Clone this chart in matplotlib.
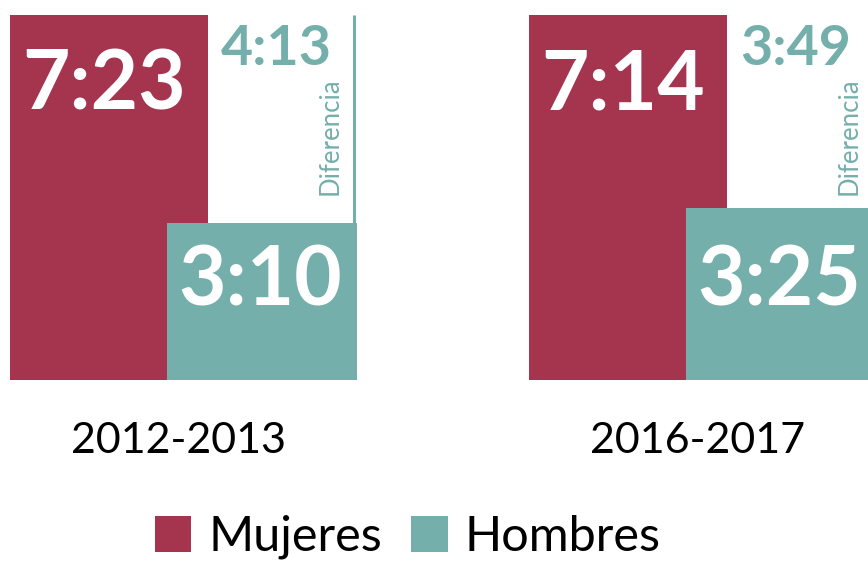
import matplotlib
import matplotlib.pyplot as plt

matplotlib.use("Agg")

# minutes per day spent on unpaid work
periods = ["2012-2013", "2016-2017"]
mujeres = [443, 434]
hombres = [190, 205]
series_names = ["Mujeres", "Hombres"]

RED = "#A5344F"
TEAL = "#74AFAB"
FONT = "Lato"


def hhmm(minutes):
    return f"{minutes // 60}:{minutes % 60:02d}"


fig = plt.figure(figsize=(8.68, 5.61), dpi=100)
plt.rcParams["font.family"] = [FONT, "DejaVu Sans"]

W, H = 868, 561
ax_bottom = (H - 380) / H
ax_height = 365 / H
ax_width = 347 / W
lefts = [10 / W, 529 / W]

bar_m = None
bar_h = None
for i, period in enumerate(periods):
    ax = fig.add_axes([lefts[i], ax_bottom, ax_width, ax_height])
    m, h = mujeres[i], hombres[i]
    bar_m = ax.bar(0, m, width=1.02, align="edge", color=RED, zorder=1)
    bar_h = ax.bar(0.81, h, width=0.98, align="edge", color=TEAL, zorder=2)
    ax.set_xlim(0, 1.79)
    ax.set_ylim(0, m)
    ax.axis("off")

    # big values
    ax.text(0.065, m * 270 / 365, hhmm(m), color="white", fontsize=59,
            fontweight="bold", ha="left", va="baseline", clip_on=False)
    ax.text(0.87, m * 75 / 365, hhmm(h), color="white", fontsize=59,
            fontweight="bold", ha="left", va="baseline", clip_on=False)

    # difference marker
    diff = m - h
    ax.plot([1.775, 1.775], [h, m], color=TEAL, lw=2.2, clip_on=False,
            solid_capstyle="butt")
    ax.text(1.375, m * 315 / 365, hhmm(diff), color=TEAL, fontsize=40,
            fontweight="bold", ha="center", va="baseline", clip_on=False)
    ax.text(1.65, m * 185 / 365, "Diferencia", color=TEAL, fontsize=18.5,
            rotation=90, ha="center", va="bottom", clip_on=False)

    # period label
    ax.text(0.87, -0.2 * m, period, color="black", fontsize=31,
            ha="center", va="baseline", clip_on=False)

fig.legend([bar_m, bar_h], series_names, loc="lower center",
           bbox_to_anchor=(0.47, -0.075), ncol=2, frameon=False,
           fontsize=35, handlelength=0.75, handleheight=0.75,
           handletextpad=0.35, columnspacing=0.6)

fig.savefig("out.png", dpi=100)
